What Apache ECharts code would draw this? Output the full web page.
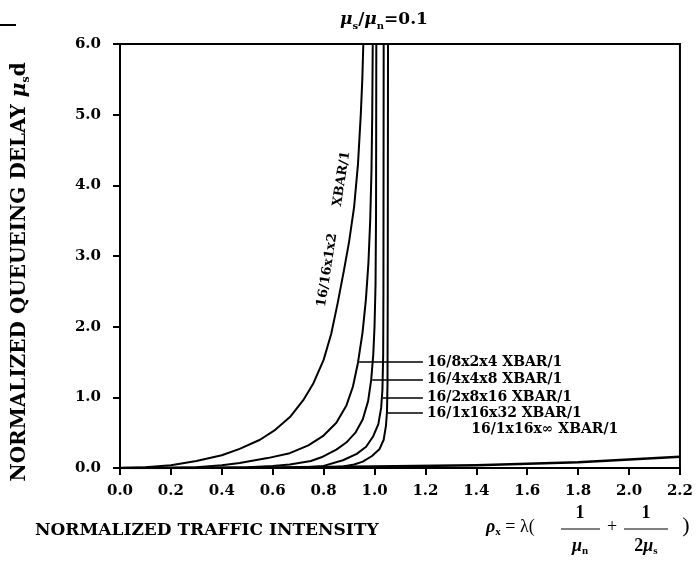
<!DOCTYPE html>
<html><head><meta charset="utf-8">
<script src="https://cdn.jsdelivr.net/npm/echarts@6/dist/echarts.min.js"></script>
<style>html,body{margin:0;padding:0;background:#fff}#c{width:696px;height:575px}</style>
</head><body><div id="c"></div>
<script>
// ---------- data ----------
const xTickValues = [0, 0.2, 0.4, 0.6, 0.8, 1.0, 1.2, 1.4, 1.6, 1.8, 2.0, 2.2];
const yTickValues = [0, 1, 2, 3, 4, 5, 6];

const curveNames = ['16/16x1x2 XBAR/1', '16/8x2x4 XBAR/1', '16/4x4x8 XBAR/1',
                    '16/2x8x16 XBAR/1', '16/1x16x32 XBAR/1', '16/1x16x\u221E XBAR/1'];

const curve_16x1x2 = [[0,0],[0.1,0.01],[0.2,0.04],[0.3,0.1],[0.4,0.18],[0.47,0.27],[0.55,0.4],
  [0.61,0.54],[0.67,0.73],[0.72,0.96],[0.76,1.2],[0.8,1.53],[0.83,1.9],[0.855,2.33],[0.88,2.8],
  [0.9,3.2],[0.92,3.7],[0.935,4.3],[0.946,5.0],[0.952,5.5],[0.956,6.0]];
const curve_8x2x4 = [[0.15,0],[0.3,0.01],[0.4,0.04],[0.47,0.07],[0.58,0.14],[0.667,0.21],[0.74,0.32],[0.797,0.45],
  [0.85,0.64],[0.889,0.88],[0.915,1.15],[0.935,1.49],[0.953,1.92],[0.966,2.38],[0.976,2.9],
  [0.983,3.5],[0.988,4.2],[0.991,5.0],[0.993,6.0]];
const curve_4x4x8 = [[0.3,0],[0.5,0.01],[0.6,0.03],[0.667,0.05],[0.75,0.1],[0.797,0.16],[0.85,0.26],[0.889,0.36],
  [0.925,0.5],[0.954,0.69],[0.975,0.95],[0.987,1.25],[0.995,1.6],[1.0,2.0],[1.004,2.6],[1.006,3.6],[1.007,6.0]];
const curve_2x8x16 = [[0.5,0],[0.7,0.005],[0.8,0.03],[0.876,0.11],[0.93,0.2],[0.967,0.3],[0.995,0.45],
  [1.015,0.62],[1.026,0.85],[1.031,1.1],[1.034,1.6],[1.035,2.5],[1.036,6.0]];
const curve_1x16x32 = [[0.6,0],[0.8,0.005],[0.876,0.02],[0.92,0.05],[0.954,0.09],[0.99,0.17],[1.02,0.27],[1.036,0.4],
  [1.045,0.6],[1.049,0.8],[1.051,1.2],[1.052,2.5],[1.053,6.0]];
const curve_1x16xinf = [[0,0],[0.5,0.005],[1.0,0.02],[1.4,0.04],[1.8,0.08],[2.2,0.16]];

const curves = [curve_16x1x2, curve_8x2x4, curve_4x4x8, curve_2x8x16, curve_1x16x32, curve_1x16xinf];
// heights at which the label arrows meet curves 2..5
const arrowLevels = [1.5, 1.25, 1.0, 0.78];

// ---------- helpers ----------
const SERIF = '"DejaVu Serif", serif';
const TIMES = '"Liberation Serif", serif';
function xAtY(pts, y) {
  for (let i = 1; i < pts.length; i++) {
    const a = pts[i-1], b = pts[i];
    if (y >= a[1] && y <= b[1]) return a[0] + (b[0]-a[0]) * (y - a[1]) / (b[1]-a[1]);
  }
  return pts[pts.length-1][0];
}
const ARROW_START = 1.19;

const series = curves.map((pts, i) => {
  const s = {
    name: curveNames[i], type: 'line', data: pts, showSymbol: false, smooth: false,
    lineStyle: {color: '#000', width: i === 5 ? 2.5 : 2, join: 'round'}, z: 3
  };
  if (i >= 1 && i <= 4) {
    const yv = arrowLevels[i-1];
    s.markLine = {
      silent: true, symbol: ['none', 'arrow'], symbolSize: [0, 10],
      label: {show: false},
      lineStyle: {color: '#000', width: 1.5, type: 'solid'},
      data: [[{coord: [ARROW_START, yv]}, {coord: [xAtY(pts, yv) + 0.004, yv]}]]
    };
  }
  return s;
});

const chart = echarts.init(document.getElementById('c'));
chart.setOption({
  animation: false,
  backgroundColor: '#fff',
  grid: {left: 120, right: 15, top: 44, bottom: 107, show: true, borderColor: '#000', borderWidth: 2},
  xAxis: {
    type: 'value', min: 0, max: 2.2, interval: 0.2,
    axisLine: {lineStyle: {color: '#000', width: 2}},
    axisTick: {length: 7, lineStyle: {color: '#000', width: 2}},
    splitLine: {show: false},
    axisLabel: {color: '#000', fontFamily: SERIF, fontWeight: 'bold', fontSize: 15, margin: 16,
      formatter: v => xTickValues.some(t => Math.abs(t - v) < 1e-6) ? v.toFixed(1) : ''}
  },
  yAxis: {
    type: 'value', min: 0, max: 6, interval: 1,
    axisLine: {show: true, lineStyle: {color: '#000', width: 2}},
    axisTick: {show: true, length: 7, lineStyle: {color: '#000', width: 2}},
    splitLine: {show: false},
    axisLabel: {color: '#000', fontFamily: SERIF, fontWeight: 'bold', fontSize: 15, margin: 19,
      formatter: v => yTickValues.includes(Math.round(v)) ? v.toFixed(1) : ''}
  },
  series: series
});

// ---------- annotations ----------
const px = p => chart.convertToPixel({gridIndex: 0}, p);
const g = [];
const labStyle = {fill: '#000', font: 'bold 14px ' + SERIF};
for (let i = 1; i <= 4; i++) {
  const p = px([ARROW_START, arrowLevels[i-1]]);
  g.push({type: 'text', x: p[0] + 4, y: p[1],
    style: Object.assign({text: curveNames[i], align: 'left', verticalAlign: 'middle'}, labStyle)});
}
{
  const p = px([1.38, 0.54]);
  g.push({type: 'text', x: p[0], y: p[1],
    style: {text: curveNames[5], align: 'left', verticalAlign: 'middle', fill: '#000', font: 'bold 14px ' + SERIF}});
}
{
  const p = px([0.84, 3.38]);
  g.push({type: 'text', x: p[0], y: p[1], rotation: 81 * Math.PI / 180,
    style: {text: '16/16x1x2      XBAR/1', align: 'center', verticalAlign: 'middle', fill: '#000', font: 'bold 13px ' + SERIF}});
}
// title
g.push({type: 'text', x: 384, y: 20, style: {
  text: '{m|\u03BC}{s|s}{t|/}{m|\u03BC}{s|n}{t|=0.1}', align: 'center', verticalAlign: 'middle',
  rich: {
    m: {fontFamily: SERIF, fontWeight: 'bold', fontStyle: 'italic', fontSize: 17, lineHeight: 22, fill: '#000'},
    t: {fontFamily: SERIF, fontWeight: 'bold', fontSize: 17, lineHeight: 22, fill: '#000'},
    s: {fontFamily: SERIF, fontWeight: 'bold', fontSize: 10, lineHeight: 12, verticalAlign: 'bottom', fill: '#000'}
  }}});
// y axis name
g.push({type: 'text', x: 20, y: 272, rotation: Math.PI / 2, style: {
  text: '{t|NORMALIZED QUEUEING DELAY }{m|\u03BC}{s|s}{t|d}', align: 'center', verticalAlign: 'middle',
  rich: {
    t: {fontFamily: SERIF, fontWeight: 'bold', fontSize: 20, lineHeight: 24, fill: '#000'},
    m: {fontFamily: SERIF, fontWeight: 'bold', fontStyle: 'italic', fontSize: 20, lineHeight: 24, fill: '#000'},
    s: {fontFamily: SERIF, fontWeight: 'bold', fontSize: 11, lineHeight: 13, verticalAlign: 'bottom', fill: '#000'}
  }}});
// x axis name
g.push({type: 'text', x: 35, y: 531, style: {text: 'NORMALIZED TRAFFIC INTENSITY', align: 'left', verticalAlign: 'middle',
  fill: '#000', font: 'bold 17px ' + SERIF}});
// formula
const fr = {
  m: {fontFamily: TIMES, fontStyle: 'italic', fontWeight: 'bold', fontSize: 18, lineHeight: 22, fill: '#000'},
  t: {fontFamily: TIMES, fontSize: 18, lineHeight: 22, fill: '#000'},
  b: {fontFamily: TIMES, fontWeight: 'bold', fontSize: 18, lineHeight: 22, fill: '#000'},
  s: {fontFamily: TIMES, fontWeight: 'bold', fontSize: 11, lineHeight: 13, verticalAlign: 'bottom', fill: '#000'}
};
g.push({type: 'text', x: 486, y: 527, style: {text: '{m|\u03C1}{s|x}{t| = \u03BB(}', align: 'left', verticalAlign: 'middle', rich: fr}});
g.push({type: 'text', x: 580, y: 513, style: {text: '{b|1}', align: 'center', verticalAlign: 'middle', rich: fr}});
g.push({type: 'line', shape: {x1: 561, y1: 529, x2: 600, y2: 529}, style: {stroke: '#000', lineWidth: 1.2}});
g.push({type: 'text', x: 580, y: 546, style: {text: '{m|\u03BC}{s|n}', align: 'center', verticalAlign: 'middle', rich: fr}});
g.push({type: 'text', x: 612, y: 527, style: {text: '{t|+}', align: 'center', verticalAlign: 'middle', rich: fr}});
g.push({type: 'text', x: 646, y: 513, style: {text: '{b|1}', align: 'center', verticalAlign: 'middle', rich: fr}});
g.push({type: 'line', shape: {x1: 624, y1: 529, x2: 668, y2: 529}, style: {stroke: '#000', lineWidth: 1.2}});
g.push({type: 'text', x: 646, y: 546, style: {text: '{b|2}{m|\u03BC}{s|s}', align: 'center', verticalAlign: 'middle', rich: fr}});
g.push({type: 'text', x: 686, y: 526, style: {text: ')', align: 'center', verticalAlign: 'middle', fill: '#000', font: '22px ' + TIMES}});
// small stroke at top-left of the scan
g.push({type: 'line', shape: {x1: 0, y1: 25, x2: 16, y2: 25}, style: {stroke: '#000', lineWidth: 2}});

chart.setOption({graphic: g});
</script>
</body></html>
